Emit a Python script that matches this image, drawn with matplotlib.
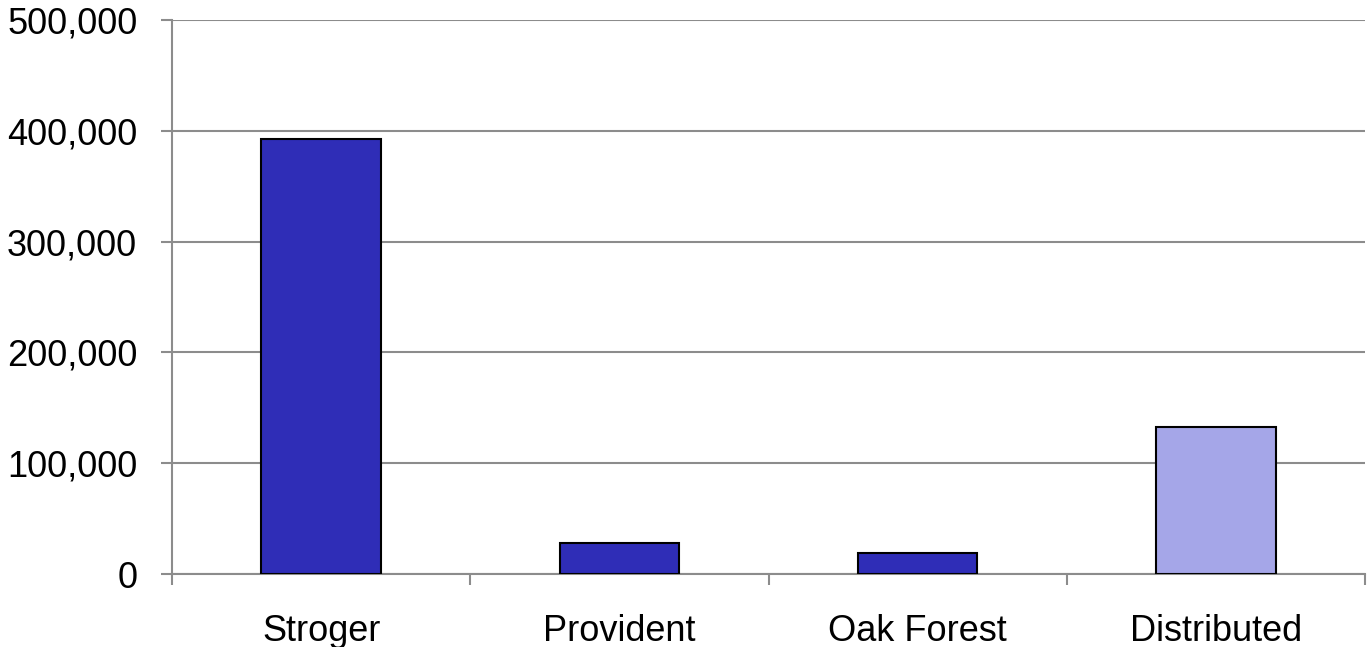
import numpy as np
import matplotlib.pyplot as plt
from matplotlib.ticker import FuncFormatter, FixedLocator

plt.rcParams['font.family'] = ['Liberation Sans', 'DejaVu Sans']

categories = ["Stroger", "Provident", "Oak Forest", "Distributed"]
values = [393000, 28000, 19000, 133000]
bar_colors = ["#2f2db7", "#2f2db7", "#2f2db7", "#a5a6e8"]

fig = plt.figure(figsize=(13.67, 6.47), dpi=100)
ax = fig.add_axes([172 / 1367, (647 - 574) / 647, (1365 - 172) / 1367, (574 - 20) / 647])

x = np.arange(len(categories))
ax.bar(x, values, width=0.4, color=bar_colors, edgecolor="black", linewidth=1.5, zorder=3)

ax.set_xlim(-0.5, len(categories) - 0.5)
ax.set_ylim(0, 500000)
ax.set_yticks(np.arange(0, 500001, 100000))
ax.yaxis.set_major_formatter(FuncFormatter(lambda v, p: f"{int(v):,}"))
ax.yaxis.grid(True, color="#8c8c8c", linewidth=1.5, zorder=0)

ax.set_xticks(x)
ax.set_xticklabels(categories)
ax.xaxis.set_minor_locator(FixedLocator(np.arange(-0.5, len(categories), 1.0)))

gray = "#8c8c8c"
for s in ["top", "right"]:
    ax.spines[s].set_visible(False)
for s in ["left", "bottom"]:
    ax.spines[s].set_color(gray)
    ax.spines[s].set_linewidth(1.5)

ax.tick_params(axis="y", length=8, width=1.5, color=gray, labelsize=26, pad=17)
ax.tick_params(axis="x", which="major", length=0, labelsize=26, pad=29)
ax.tick_params(axis="x", which="minor", length=8, width=1.5, color=gray)

fig.savefig("out.png", dpi=100)
